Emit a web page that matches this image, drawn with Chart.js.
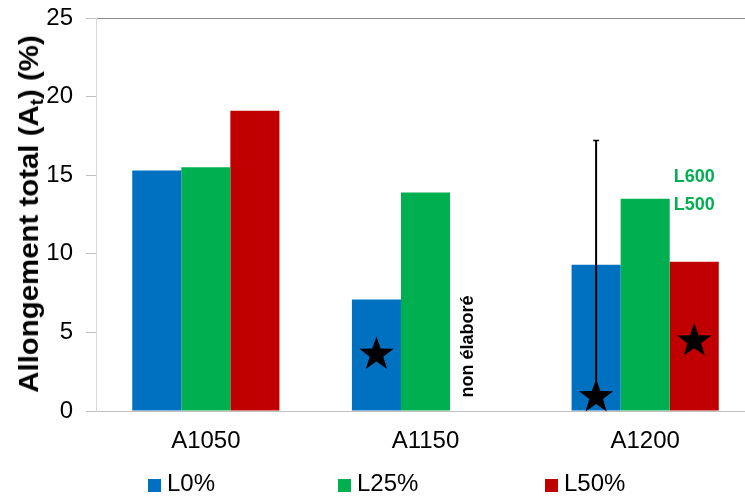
<!DOCTYPE html>
<html>
<head>
<meta charset="utf-8">
<script src="https://cdn.jsdelivr.net/npm/chart.js@4.4.1/dist/chart.umd.min.js"></script>
<style>
  html, body { margin:0; padding:0; background:#fff; overflow:hidden; width:745px; height:497px; }
  #wrap { position:absolute; left:0; top:0; width:755px; height:497px; }
  #ytitle { position:absolute; left:29px; top:214px; white-space:nowrap; line-height:1;
    font:bold 28px "Liberation Sans", Arial, sans-serif; color:#000;
    transform:translate(-50%,-50%) rotate(-90deg) scaleX(1.05); }
  #ytitle sub { font-size:65%; vertical-align:baseline; position:relative; top:0.3em; }
  .leg { position:absolute; top:469px; height:28px; line-height:28px; white-space:nowrap;
    font:24px "Liberation Sans", Arial, sans-serif; color:#000; }
  .leg i { display:inline-block; width:13px; height:13px; margin-right:6px; vertical-align:-1px; }
</style>
</head>
<body>
<div id="wrap"><canvas id="c" width="755" height="497"></canvas></div>
<div id="ytitle">Allongement total (A<sub>t</sub>) (%)</div>
<div id="legend"></div>
<script>
// ---- data ----
const categories = ['A1050', 'A1150', 'A1200'];
const seriesNames = ['L0%', 'L25%', 'L50%'];
const valuesL0  = [15.3, 7.1, 9.3];
const valuesL25 = [15.5, 13.9, 13.5];
const valuesL50 = [19.1, null, 9.5];
const yTicks = [0, 5, 10, 15, 20, 25];
// error bar on L0% / A1200
const errorBars = [{ series: 0, category: 2, low: 1.45, high: 17.2 }];
// star markers (series index, category index, value)
const starMarks = [
  { series: 0, category: 1, value: 3.6 },
  { series: 0, category: 2, value: 0.9 },
  { series: 2, category: 2, value: 4.45 }
];
// text notes anchored on a bar slot
const textNotes = [
  { text: 'non élaboré', series: 2, category: 1, value: 4.1, kind: 'vertical' },
  { text: 'L600', series: 2, category: 2, value: 14.9, kind: 'green' },
  { text: 'L500', series: 2, category: 2, value: 13.1, kind: 'green' }
];

// ---- styles ----
const colors = ['#0070C0', '#00B050', '#C00000'];
const FONT = '"Liberation Sans", Arial, sans-serif';
const noteStyles = {
  vertical: { font: 'bold 18px ' + FONT, color: '#000' },
  green:    { font: 'bold 18px ' + FONT, color: '#00B050' }
};

// ---- legend (HTML) ----
const legendLefts = [148, 338, 545];
const legendEl = document.getElementById('legend');
seriesNames.forEach((n, i) => {
  const d = document.createElement('div');
  d.className = 'leg';
  d.style.left = legendLefts[i] + 'px';
  const box = document.createElement('i');
  box.style.background = colors[i];
  d.appendChild(box);
  d.appendChild(document.createTextNode(n));
  legendEl.appendChild(d);
});

// ---- overlay plugin: error bars, stars, notes ----
function drawStar(ctx, cx, cy, R, r) {
  ctx.beginPath();
  for (let k = 0; k < 10; k++) {
    const ang = -Math.PI / 2 + k * Math.PI / 5;
    const rad = k % 2 === 0 ? R : r;
    const px = cx + rad * Math.cos(ang), py = cy + rad * Math.sin(ang);
    if (k === 0) ctx.moveTo(px, py); else ctx.lineTo(px, py);
  }
  ctx.closePath();
  ctx.fill();
}
const overlay = {
  id: 'overlay',
  afterDatasetsDraw(chart) {
    const ctx = chart.ctx, ys = chart.scales.y;
    ctx.save();
    errorBars.forEach(e => {
      const x = chart.getDatasetMeta(e.series).data[e.category].x;
      const y1 = ys.getPixelForValue(e.high), y2 = ys.getPixelForValue(e.low);
      ctx.strokeStyle = '#000';
      ctx.lineWidth = 2;
      ctx.beginPath();
      ctx.moveTo(x, y1); ctx.lineTo(x, y2);
      ctx.stroke();
      ctx.lineWidth = 1.5;
      ctx.beginPath();
      ctx.moveTo(x - 3, y1); ctx.lineTo(x + 3, y1);
      ctx.moveTo(x - 3, y2); ctx.lineTo(x + 3, y2);
      ctx.stroke();
    });
    ctx.fillStyle = '#000';
    starMarks.forEach(s => {
      const x = chart.getDatasetMeta(s.series).data[s.category].x;
      drawStar(ctx, x, ys.getPixelForValue(s.value), 18, 7.2);
    });
    textNotes.forEach(n => {
      const st = noteStyles[n.kind];
      const x = chart.getDatasetMeta(n.series).data[n.category].x;
      const y = ys.getPixelForValue(n.value);
      ctx.font = st.font;
      ctx.fillStyle = st.color;
      ctx.textAlign = 'center';
      if (n.kind === 'vertical') {
        ctx.save();
        ctx.translate(x - 2, y);
        ctx.rotate(-Math.PI / 2);
        ctx.textBaseline = 'alphabetic';
        ctx.fillText(n.text, 0, 0);
        ctx.restore();
      } else {
        ctx.textBaseline = 'middle';
        ctx.fillText(n.text, x, y);
      }
    });
    ctx.restore();
  }
};

Chart.defaults.font.family = FONT;
new Chart(document.getElementById('c'), {
  type: 'bar',
  data: {
    labels: categories,
    datasets: [valuesL0, valuesL25, valuesL50].map((vals, i) => ({
      label: seriesNames[i],
      data: vals,
      backgroundColor: colors[i],
      borderWidth: 0,
      barPercentage: 1,
      categoryPercentage: 0.67
    }))
  },
  options: {
    responsive: false,
    animation: false,
    devicePixelRatio: 1,
    layout: { padding: { top: 18, left: 0, right: 0, bottom: 0 } },
    plugins: { legend: { display: false }, tooltip: { enabled: false } },
    scales: {
      x: {
        grid: { display: false, drawTicks: false },
        border: { color: '#bfbfbf', width: 1 },
        ticks: { padding: 16, color: '#000', font: { size: 24 } },
        afterFit(s) { s.height = 86; s.paddingLeft = 0; s.paddingRight = 0; }
      },
      y: {
        min: 0, max: 25,
        afterBuildTicks(s) { s.ticks = yTicks.map(v => ({ value: v })); },
        ticks: { padding: 13, color: '#000', font: { size: 24 } },
        grid: {
          color: c => (c.tick && c.tick.value === 25) ? '#8c8c8c' : 'rgba(0,0,0,0)',
          tickColor: '#bfbfbf',
          tickLength: 10,
          lineWidth: 1
        },
        border: { color: '#d9d9d9', width: 1 },
        afterFit(s) { s.width = 96; s.paddingTop = 0; s.paddingBottom = 0; }
      }
    }
  },
  plugins: [overlay]
});
</script>
</body>
</html>
